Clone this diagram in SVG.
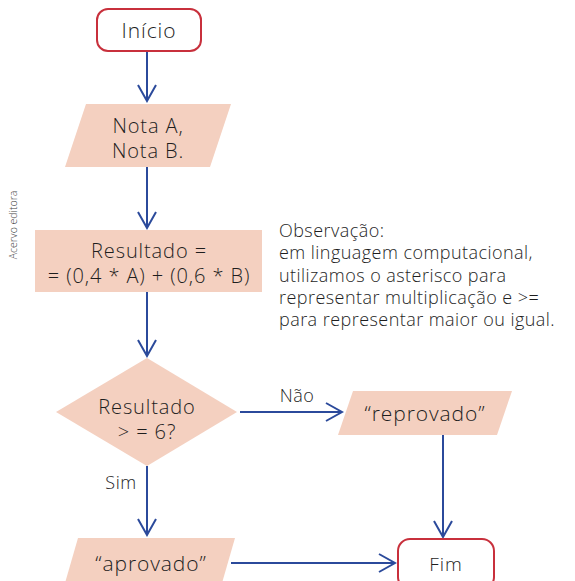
<svg xmlns="http://www.w3.org/2000/svg" width="575" height="581" viewBox="0 0 575 581">
<defs>
<style>
.t{font-family:"Open Sans","Liberation Sans",sans-serif;font-weight:300;fill:#1e1e1e;font-size:20px;letter-spacing:0.9px;text-anchor:middle}
.o{font-family:"Open Sans","Liberation Sans",sans-serif;font-weight:300;fill:#1e1e1e;font-size:18px;letter-spacing:0.45px}
.term{fill:#fff;stroke:#c8303c;stroke-width:2}
.fill{fill:#f4d0c0}
.c{stroke:#2b4a9b;stroke-width:2;fill:none}
</style>
<marker id="a" viewBox="0 0 20 20" refX="18" refY="10" markerWidth="20" markerHeight="20" markerUnits="userSpaceOnUse" orient="auto">
<path d="M2,1 L18,10 L2,19" fill="none" stroke="#2b4a9b" stroke-width="2"/>
</marker>
</defs>
<rect width="575" height="581" fill="#fff"/>
<g id="connectors">
<line class="c" x1="147" y1="52" x2="147" y2="101" marker-end="url(#a)"/>
<line class="c" x1="147" y1="167" x2="147" y2="228" marker-end="url(#a)"/>
<line class="c" x1="147" y1="292" x2="147" y2="356" marker-end="url(#a)"/>
<line class="c" x1="240" y1="412" x2="342" y2="412" marker-end="url(#a)"/>
<line class="c" x1="147" y1="466" x2="147" y2="535" marker-end="url(#a)"/>
<line class="c" x1="443" y1="435" x2="443" y2="537" marker-end="url(#a)"/>
<line class="c" x1="231" y1="563" x2="395" y2="563" marker-end="url(#a)"/>
<text class="t" x="297" y="402" style="font-size:18px;letter-spacing:0.5px">Não</text>
<text class="t" x="121" y="489" style="font-size:18px;letter-spacing:0.5px">Sim</text>
</g>
<g id="inicio">
<rect class="term" x="97" y="9" width="104" height="42" rx="11"/>
<text class="t" x="149" y="38" style="font-size:21px">Início</text>
</g>
<g id="entrada">
<polygon class="fill" points="86,104 231,104 210,167 65,167"/>
<text class="t" x="148" y="133">Nota A,</text>
<text class="t" x="148" y="158">Nota B.</text>
</g>
<g id="processo">
<rect class="fill" x="35" y="230" width="227" height="62"/>
<text class="t" x="149" y="258">Resultado =</text>
<text class="t" x="149" y="283">= (0,4 * A) + (0,6 * B)</text>
</g>
<g id="observacao">
<text class="o" x="279" y="237">Observação:</text>
<text class="o" x="279" y="259">em linguagem computacional,</text>
<text class="o" x="279" y="282">utilizamos o asterisco para</text>
<text class="o" x="279" y="304">representar multiplicação e &gt;=</text>
<text class="o" x="279" y="326">para representar maior ou igual.</text>
</g>
<g id="decisao">
<polygon class="fill" points="147,358 237,412 147,466 56,412"/>
<text class="t" x="147" y="414">Resultado</text>
<text class="t" x="147" y="439">&gt; = 6?</text>
</g>
<g id="reprovado">
<polygon class="fill" points="353,391 512,391 497,435 338,435"/>
<text class="t" x="425" y="421" style="font-size:21px">“reprovado”</text>
</g>
<g id="aprovado">
<polygon class="fill" points="78,538 235,538 220,590 63,590"/>
<text class="t" x="151" y="571" style="font-size:21px">“aprovado”</text>
</g>
<g id="fim">
<rect class="term" x="398" y="539" width="96" height="50" rx="12"/>
<text class="t" x="446" y="571" style="font-size:19px">Fim</text>
</g>
<text x="17" y="225" transform="rotate(-90 17 225)" style="font-family:'Open Sans','Liberation Sans',sans-serif;font-weight:300;font-size:10.5px;fill:#444;text-anchor:middle">Acervo editora</text>
</svg>
